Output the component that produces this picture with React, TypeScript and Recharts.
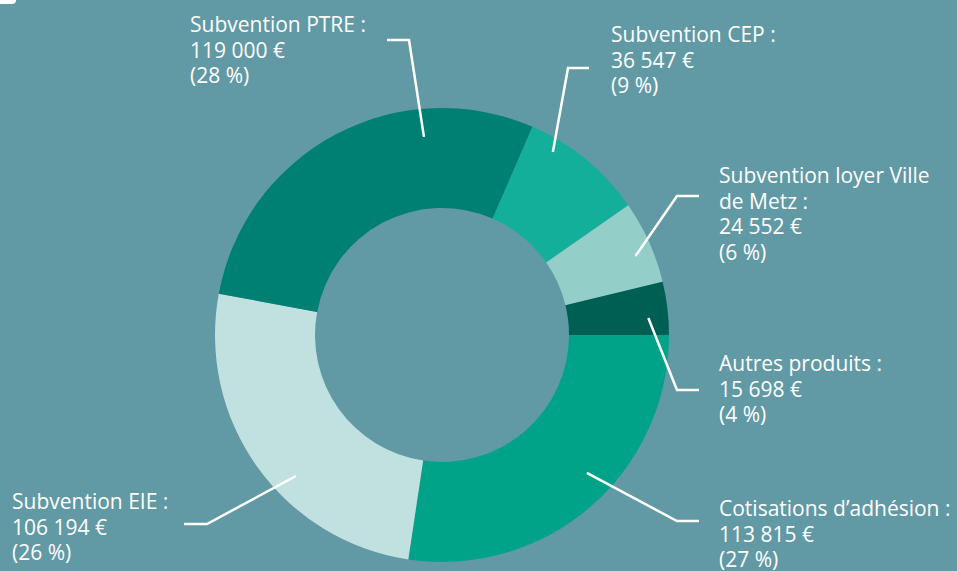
import { PieChart, Pie, Cell } from 'recharts';

const categories = [
  'Cotisations d’adhésion',
  'Subvention EIE',
  'Subvention PTRE',
  'Subvention CEP',
  'Subvention loyer Ville de Metz',
  'Autres produits',
];
const amounts = [113815, 106194, 119000, 36547, 24552, 15698];
const percents = [27, 26, 28, 9, 6, 4];
const colors = ['#00a387', '#c1e1e0', '#007f73', '#14af9a', '#93cfc8', '#005f53'];

const BG = '#6199a5';
const FONT = '"Open Sans", "Noto Sans", sans-serif';

// leader line: start in polar coords round the pie centre, then elbow and end point, text anchor
const labelLayout = [
  { angle: -43.6, r: 200, elbow: [677, 521], end: [699, 521], tx: 719, ty: 516 },
  { angle: 224, r: 203, elbow: [207, 524], end: [184, 524], tx: 12, ty: 509 },
  { angle: 95.2, r: 199, elbow: [409, 40], end: [387, 40], tx: 190, ty: 32 },
  { angle: 58.8, r: 214, elbow: [568, 68], end: [589, 68], tx: 611, ty: 42 },
  { angle: 22.2, r: 209, elbow: [677, 196], end: [699, 196], tx: 719, ty: 183 },
  { angle: 4.7, r: 207, elbow: [677, 390], end: [699, 390], tx: 719, ty: 371 },
];

const data = categories.map((name, i) => ({ name, value: amounts[i], pct: percents[i] }));

const fmt = (n: number) => String(n).replace(/\B(?=(\d{3})+(?!\d))/g, ' ');

function wrap(text: string, max: number) {
  const out: string[] = [];
  let cur = '';
  for (const w of text.split(' ')) {
    const next = cur ? cur + ' ' + w : w;
    if (next.length > max && cur) {
      out.push(cur);
      cur = w;
    } else cur = next;
  }
  if (cur) out.push(cur);
  return out;
}

const renderLabel = (props: any) => {
  const { cx, cy, index } = props;
  const l = labelLayout[index];
  const d = data[index];
  const rad = (l.angle * Math.PI) / 180;
  const sx = cx + l.r * Math.cos(rad);
  const sy = cy - l.r * Math.sin(rad);
  const lines = [...wrap(d.name + ' :', 24), `${fmt(d.value)} €`, `(${d.pct} %)`];
  return (
    <g key={`lbl-${index}`}>
      <polyline
        points={`${sx},${sy} ${l.elbow[0]},${l.elbow[1]} ${l.end[0]},${l.end[1]}`}
        fill="none"
        stroke="#fff"
        strokeWidth={2.5}
      />
      <text x={l.tx} y={l.ty} fill="#fff" fontSize={21} fontFamily={FONT} textAnchor="start">
        {lines.map((t, k) => (
          <tspan key={k} x={l.tx} y={l.ty + k * 25.5}>
            {t}
          </tspan>
        ))}
      </text>
    </g>
  );
};

export default function App() {
  return (
    <div style={{ position: 'absolute', left: 0, top: 0, width: 957, height: 571, background: BG, overflow: 'hidden' }}>
      <div style={{ position: 'absolute', left: 0, top: 0, width: 16, height: 4, background: '#fff', borderBottomRightRadius: 4 }} />
      <PieChart width={957} height={571} margin={{ top: 0, right: 0, bottom: 0, left: 0 }}>
        <Pie
          data={data}
          dataKey="value"
          nameKey="name"
          cx={442}
          cy={335}
          innerRadius={127}
          outerRadius={227}
          startAngle={0}
          endAngle={-360}
          paddingAngle={0}
          stroke="none"
          label={renderLabel}
          labelLine={false}
          isAnimationActive={false}
        >
          {data.map((_, i) => (
            <Cell key={i} fill={colors[i]} />
          ))}
        </Pie>
      </PieChart>
    </div>
  );
}
